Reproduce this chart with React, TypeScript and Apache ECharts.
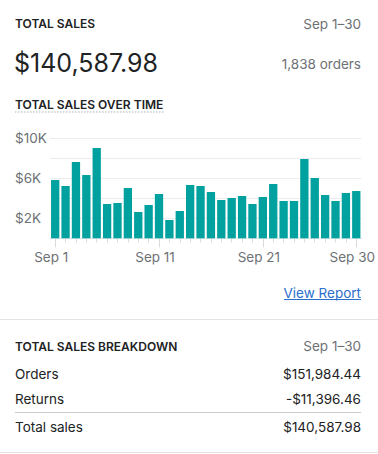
import React, { useEffect, useRef } from "react";
import * as echarts from "echarts";

const days: string[] = Array.from({ length: 30 }, (_, i) => `Sep ${i + 1}`);
const sales: number[] = [
  5830, 5230, 7630, 6330, 9030, 3430, 3530, 5030, 2630, 3330,
  4430, 1830, 2730, 5330, 5230, 4630, 3830, 4030, 4230, 3430,
  4130, 5430, 3730, 3730, 7930, 6030, 4330, 3730, 4530, 4730,
];
const labelDays: number[] = [0, 10, 20, 29];
const yLabelValues: number[] = [2000, 6000, 10000];
const breakdownLabels: string[] = ["Orders", "Returns", "Total sales"];
const breakdownValues: string[] = ["$151,984.44", "-$11,396.46", "$140,587.98"];

const FONT = "Inter, 'Noto Sans', sans-serif";
const DARK = "#202223";
const GREY = "#6d7175";

export default function App() {
  const ref = useRef<HTMLDivElement>(null);
  useEffect(() => {
    if (!ref.current) return;
    const chart = echarts.init(ref.current, undefined, { renderer: "svg" });
    const txt = (text: string, x: number, y: number, size: number, weight: number | string, fill: string, align = "left") => ({
      type: "text",
      x,
      y,
      silent: true,
      style: {
        text,
        fill,
        font: `${weight} ${size}px ${FONT}`,
        align,
        verticalAlign: "middle",
      },
    });
    const line = (x1: number, y1: number, x2: number, y2: number, stroke: string, extra: any = {}) => ({
      type: "line",
      silent: true,
      shape: { x1, y1, x2, y2 },
      style: { stroke, lineWidth: 1, ...extra },
    });
    const graphic: any[] = [
      txt("TOTAL SALES", 15, 23.5, 12, 600, DARK),
      txt("Sep 1–30", 361, 23.5, 13.5, 400, GREY, "right"),
      txt("$140,587.98", 14, 63, 25, 400, DARK),
      txt("1,838 orders", 361, 64, 13.5, 400, GREY, "right"),
      txt("TOTAL SALES OVER TIME", 15, 104, 12, 600, DARK),
      line(15, 112, 165, 112, "#c4cdd5", { lineWidth: 1.5, lineDash: [1.5, 1.5] }),
      txt("View Report", 361, 293, 13.5, 400, "#2c6ecb", "right"),
      line(284, 299.5, 361, 299.5, "#2c6ecb"),
      line(0, 319.5, 378, 319.5, "#e1e3e5"),
      txt("TOTAL SALES BREAKDOWN", 15, 346, 12, 600, DARK),
      txt("Sep 1–30", 361, 346, 13.5, 400, GREY, "right"),
      line(15, 412.5, 361, 412.5, "#c9cccf"),
      line(0, 452.5, 378, 452.5, "#e1e3e5"),
    ];
    const rowY = [374, 398.5, 426.5];
    breakdownLabels.forEach((l, i) => {
      graphic.push(txt(l, 15, rowY[i], 13.5, 400, DARK));
      graphic.push(txt(breakdownValues[i], 361, rowY[i], 13.5, 400, DARK, "right"));
    });

    chart.setOption({
      animation: false,
      textStyle: { fontFamily: FONT },
      grid: { left: 50, right: 16.5, top: 138.3, bottom: 215.7, containLabel: false },
      xAxis: [
        {
          type: "category",
          data: days,
          axisLine: { show: true, lineStyle: { color: "#e4e5e7" } },
          axisTick: { show: true, alignWithLabel: true, interval: 0, length: 4, lineStyle: { color: "#d9dadb" } },
          axisLabel: {
            interval: (i: number) => labelDays.includes(i),
            color: GREY,
            fontSize: 13.5,
            fontFamily: FONT,
            margin: 12,
            padding: [0, 8, 0, 0],
          },
        },
        {
          type: "category",
          data: days,
          position: "bottom",
          axisLine: { show: false },
          axisTick: {
            show: true,
            alignWithLabel: true,
            interval: (i: number) => labelDays.includes(i),
            length: 9,
            lineStyle: { color: "#d9dadb" },
          },
          axisLabel: { show: false },
        },
      ],
      yAxis: {
        type: "value",
        min: 0,
        max: 10000,
        interval: 2000,
        axisLine: { show: false },
        axisTick: { show: false },
        splitLine: { lineStyle: { color: "#ebecee" } },
        axisLabel: {
          align: "left",
          margin: 35,
          color: GREY,
          fontSize: 13.5,
          fontFamily: FONT,
          formatter: (v: number) => (yLabelValues.includes(v) ? `$${v / 1000}K` : ""),
        },
      },
      series: [
        {
          type: "bar",
          data: sales,
          xAxisIndex: 0,
          barCategoryGap: "20%",
          itemStyle: { color: "#00a19f" },
        },
      ],
      graphic,
    });
    return () => chart.dispose();
  }, []);
  return (
    <div
      ref={ref}
      style={{ position: "fixed", left: 0, top: 0, width: 378, height: 454, background: "#fff" }}
    />
  );
}
